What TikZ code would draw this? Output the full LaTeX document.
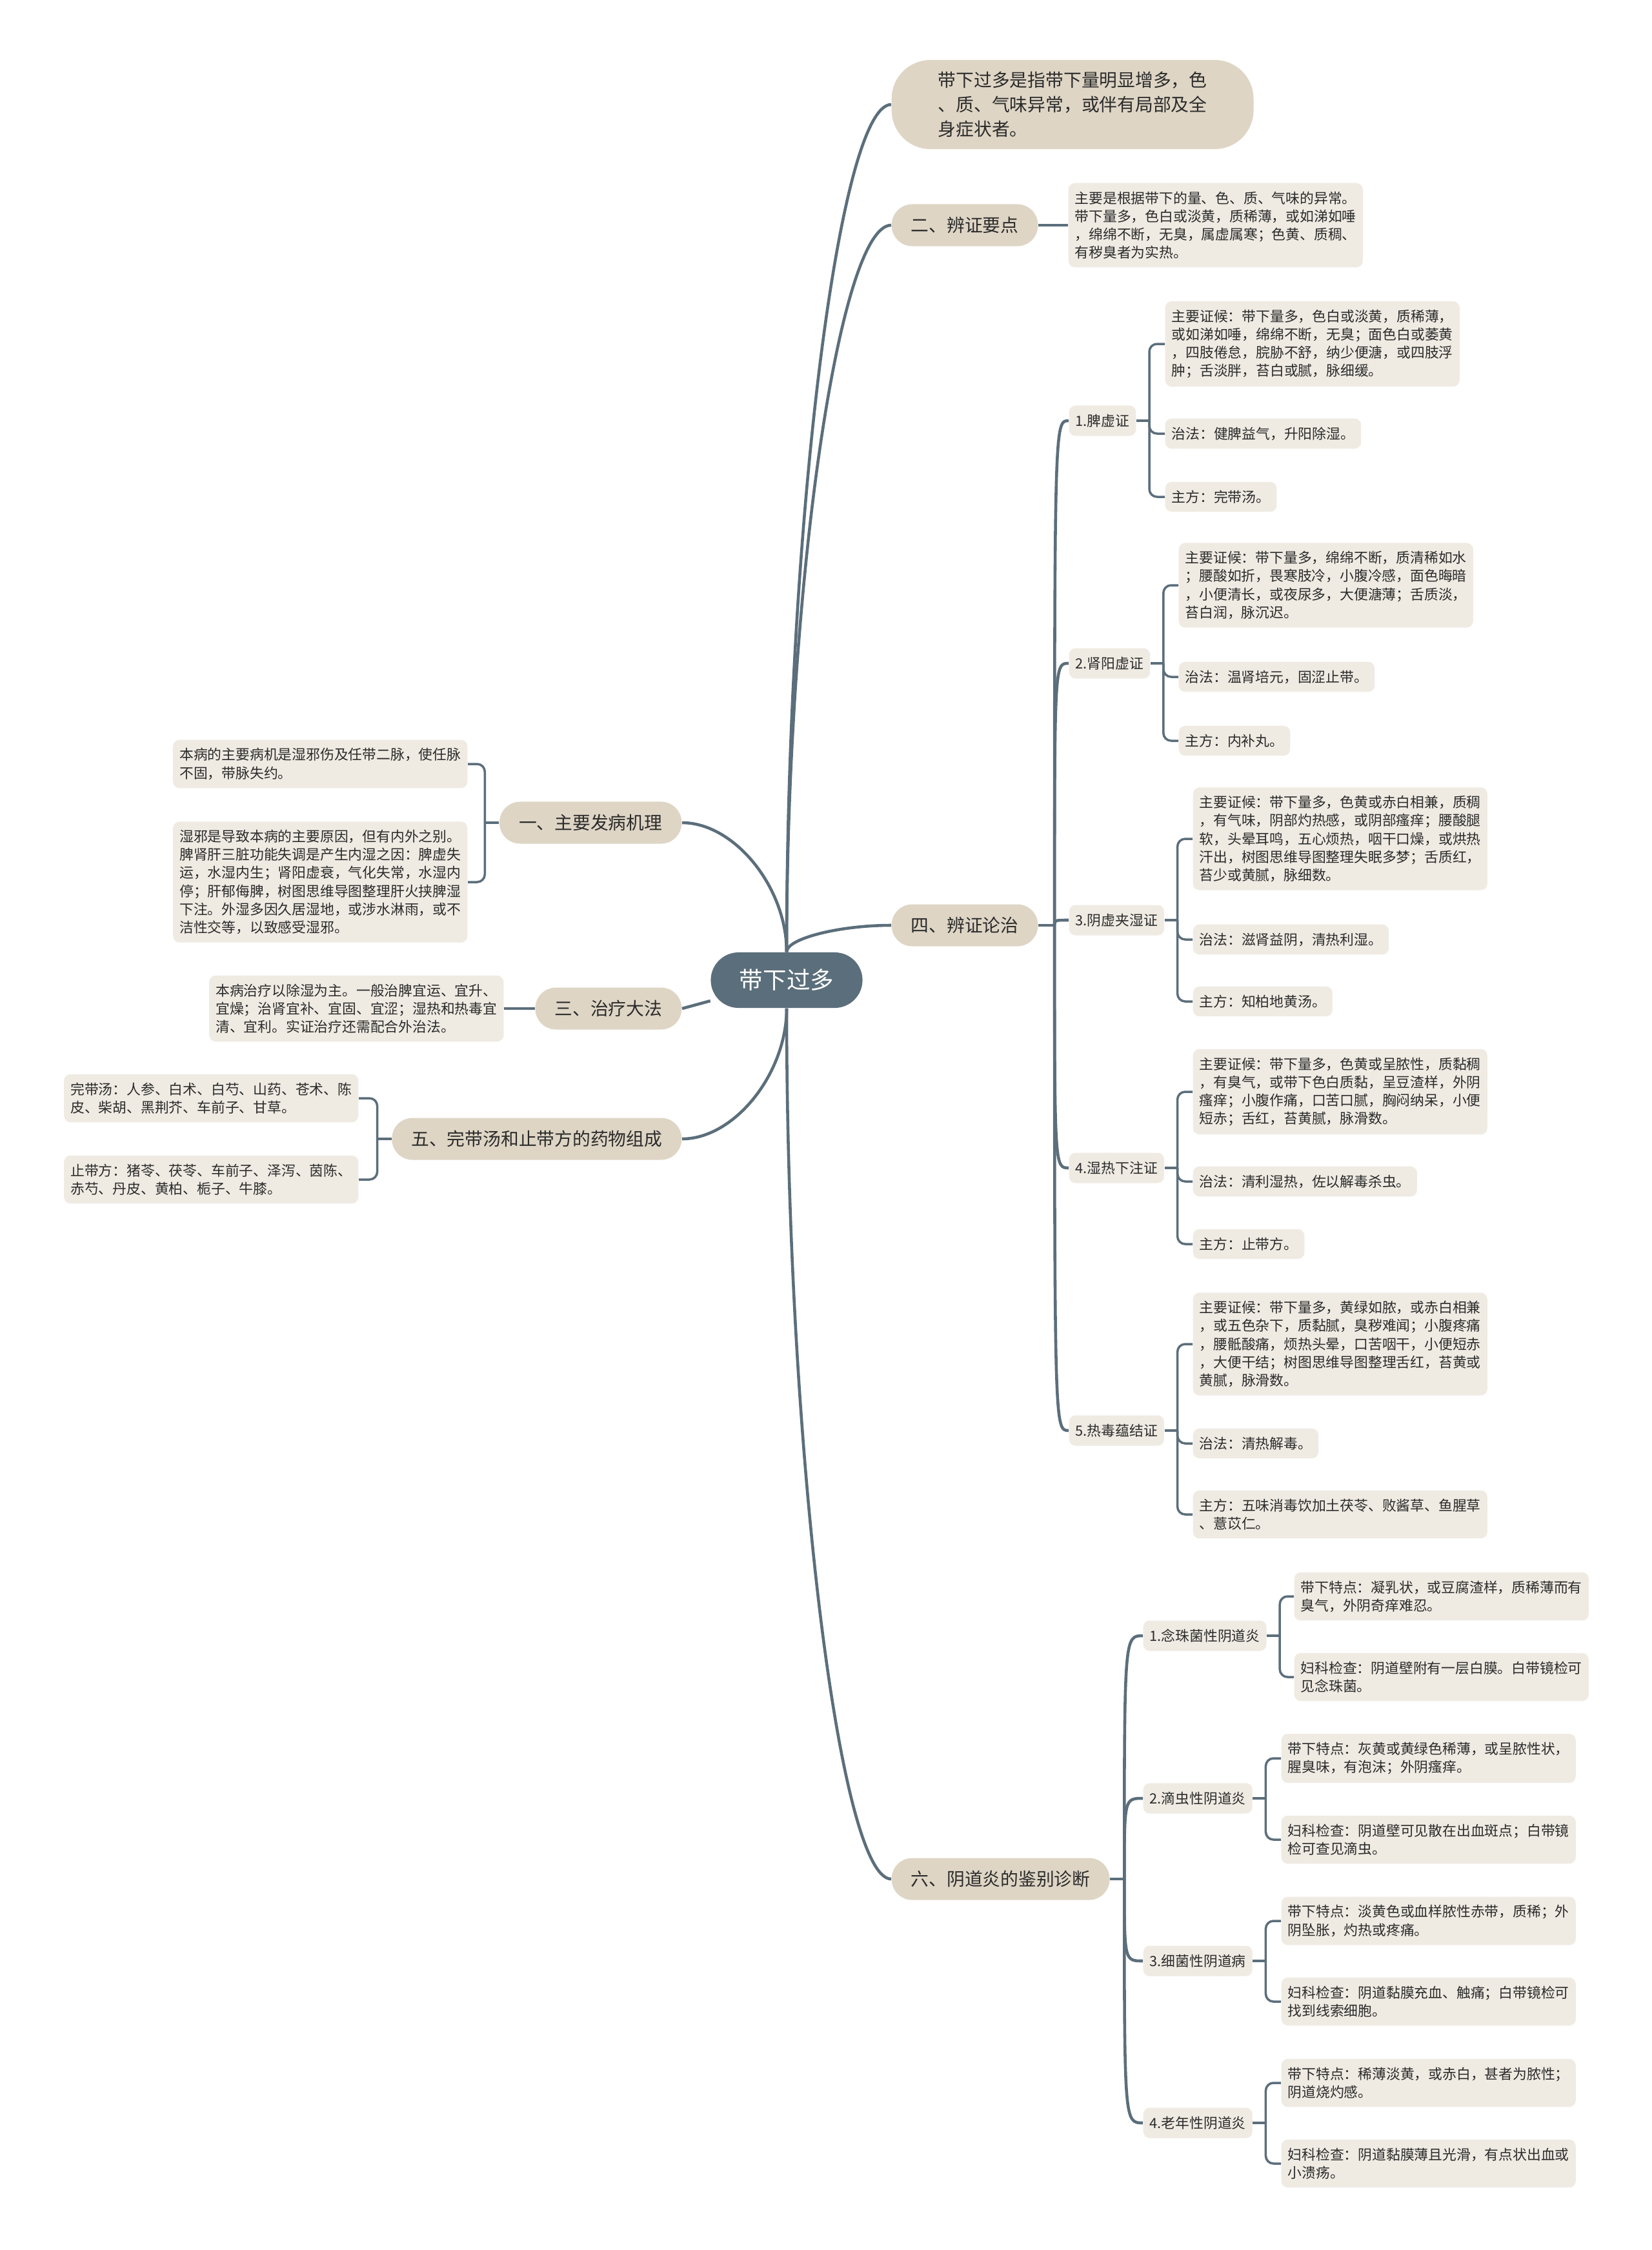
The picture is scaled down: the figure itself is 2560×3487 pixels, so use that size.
\documentclass[tikz,border=0pt]{standalone}
\usepackage{fontspec}
\usepackage{tikz}
\usetikzlibrary{positioning, calc}
\newfontfamily\cjk{Noto Sans CJK SC}
\definecolor{slateBG}{HTML}{5B6E7B}
\definecolor{sandNode}{HTML}{DED5C5}
\definecolor{paperLeaf}{HTML}{EFEBE3}
\definecolor{inkText}{HTML}{2B2B2B}
\pgfdeclarelayer{background}
\pgfsetlayers{background,main}
\tikzset{
	rootnode/.style={rectangle, rounded corners=0.43cm, minimum width=2.35cm, minimum height=0.86cm, fill=slateBG, text=white, font=\cjk\fontsize{10.4}{12}\selectfont},
	descnode/.style={rectangle, rounded corners=0.6cm, minimum height=1.38cm, inner xsep=0.72cm, inner ysep=0.17cm, align=left, fill=sandNode, text=inkText, font=\cjk\fontsize{7.9}{10.8}\selectfont},
	mainnode/.style={rectangle, rounded corners=0.32cm, minimum height=0.65cm, inner xsep=0.3cm, fill=sandNode, text=inkText, font=\cjk\fontsize{7.9}{10.8}\selectfont},
	subnode/.style={rectangle, rounded corners=0.1cm, minimum height=0.47cm, inner xsep=0.1cm, fill=paperLeaf, text=inkText, font=\cjk\fontsize{6.2}{8}\selectfont},
	leaf/.style={rectangle, rounded corners=0.1cm, inner xsep=0.1cm, inner ysep=0.13cm, align=left, fill=paperLeaf, text=inkText, font=\cjk\fontsize{6.2}{8}\selectfont},
	limb/.style={draw=slateBG, line width=1.3pt},
	twig/.style={draw=slateBG, line width=1pt},
	curvy/.style={to path={.. controls ($(\tikztostart)!0.5!(\tikztostart|-\tikztotarget)$) and ($(\tikztotarget)!0.5!(\tikztostart|-\tikztotarget)$) .. (\tikztotarget)}},
	hook/.style={to path={.. controls (\tikztostart|-\tikztotarget) .. (\tikztotarget)}}
}

\begin{document}
\begin{tikzpicture}[x=0.01cm, y=-0.01cm]
		\useasboundingbox (0,0) rectangle (2560,3487);
		
		% Centro
		\node[rootnode] (root) at (1219,1519) {带下过多};
		
		% Ramas derechas
		\node[descnode, anchor=west] (intro) at (1381,162) {带下过多是指带下量明显增多，色\\、质、气味异常，或伴有局部及全\\身症状者。};
		\node[mainnode, anchor=west] (b2) at (1381,349) {二、辨证要点};
		\node[mainnode, anchor=west] (b4) at (1381,1434) {四、辨证论治};
		\node[mainnode, anchor=west] (b6) at (1381,2912) {六、阴道炎的鉴别诊断};
		
		% Ramas izquierdas
		\node[mainnode, anchor=east] (b1) at (1057,1275) {一、主要发病机理};
		\node[mainnode, anchor=east] (b3) at (1057,1563) {三、治疗大法};
		\node[mainnode, anchor=east] (b5) at (1057,1765) {五、完带汤和止带方的药物组成};
		
		% Hojas de la izquierda
		\node[leaf, anchor=east] (b1a) at (725,1184) {本病的主要病机是湿邪伤及任带二脉，使任脉\\不固，带脉失约。};
		\node[leaf, anchor=east] (b1b) at (725,1367) {湿邪是导致本病的主要原因，但有内外之别。\\脾肾肝三脏功能失调是产生内湿之因：脾虚失\\运，水湿内生；肾阳虚衰，气化失常，水湿内\\停；肝郁侮脾，树图思维导图整理肝火挟脾湿\\下注。外湿多因久居湿地，或涉水淋雨，或不\\洁性交等，以致感受湿邪。};
		\node[leaf, anchor=east] (b3a) at (781,1563) {本病治疗以除湿为主。一般治脾宜运、宜升、\\宜燥；治肾宜补、宜固、宜涩；湿热和热毒宜\\清、宜利。实证治疗还需配合外治法。};
		\node[leaf, anchor=east] (b5a) at (556,1702) {完带汤：人参、白术、白芍、山药、苍术、陈\\皮、柴胡、黑荆芥、车前子、甘草。};
		\node[leaf, anchor=east] (b5b) at (556,1828) {止带方：猪苓、茯苓、车前子、泽泻、茵陈、\\赤芍、丹皮、黄柏、栀子、牛膝。};
		
		%辨证要点
		\node[leaf, anchor=west] (b2a) at (1655,349) {主要是根据带下的量、色、质、气味的异常。\\带下量多，色白或淡黄，质稀薄，或如涕如唾\\，绵绵不断，无臭，属虚属寒；色黄、质稠、\\有秽臭者为实热。};
		
		% 辨证论治
		\node[subnode, anchor=west] (p1) at (1656,652) {1.脾虚证};
		\node[subnode, anchor=west] (p2) at (1656,1028) {2.肾阳虚证};
		\node[subnode, anchor=west] (p3) at (1656,1426) {3.阴虚夹湿证};
		\node[subnode, anchor=west] (p4) at (1656,1810) {4.湿热下注证};
		\node[subnode, anchor=west] (p5) at (1656,2217) {5.热毒蕴结证};
		
		\node[leaf, anchor=west] (p1a) at (1805,533) {主要证候：带下量多，色白或淡黄，质稀薄，\\或如涕如唾，绵绵不断，无臭；面色白或萎黄\\，四肢倦怠，脘胁不舒，纳少便溏，或四肢浮\\肿；舌淡胖，苔白或腻，脉细缓。};
		\node[leaf, anchor=west] (p1b) at (1805,672) {治法：健脾益气，升阳除湿。};
		\node[leaf, anchor=west] (p1c) at (1805,770) {主方：完带汤。};
		
		\node[leaf, anchor=west] (p2a) at (1826,907) {主要证候：带下量多，绵绵不断，质清稀如水\\；腰酸如折，畏寒肢冷，小腹冷感，面色晦暗\\，小便清长，或夜尿多，大便溏薄；舌质淡，\\苔白润，脉沉迟。};
		\node[leaf, anchor=west] (p2b) at (1826,1049) {治法：温肾培元，固涩止带。};
		\node[leaf, anchor=west] (p2c) at (1826,1148) {主方：内补丸。};
		
		\node[leaf, anchor=west] (p3a) at (1848,1300) {主要证候：带下量多，色黄或赤白相兼，质稠\\，有气味，阴部灼热感，或阴部瘙痒；腰酸腿\\软，头晕耳鸣，五心烦热，咽干口燥，或烘热\\汗出，树图思维导图整理失眠多梦；舌质红，\\苔少或黄腻，脉细数。};
		\node[leaf, anchor=west] (p3b) at (1848,1456) {治法：滋肾益阴，清热利湿。};
		\node[leaf, anchor=west] (p3c) at (1848,1552) {主方：知柏地黄汤。};
		
		\node[leaf, anchor=west] (p4a) at (1848,1692) {主要证候：带下量多，色黄或呈脓性，质黏稠\\，有臭气，或带下色白质黏，呈豆渣样，外阴\\瘙痒；小腹作痛，口苦口腻，胸闷纳呆，小便\\短赤；舌红，苔黄腻，脉滑数。};
		\node[leaf, anchor=west] (p4b) at (1848,1831) {治法：清利湿热，佐以解毒杀虫。};
		\node[leaf, anchor=west] (p4c) at (1848,1928) {主方：止带方。};
		
		\node[leaf, anchor=west] (p5a) at (1848,2083) {主要证候：带下量多，黄绿如脓，或赤白相兼\\，或五色杂下，质黏腻，臭秽难闻；小腹疼痛\\，腰骶酸痛，烦热头晕，口苦咽干，小便短赤\\，大便干结；树图思维导图整理舌红，苔黄或\\黄腻，脉滑数。};
		\node[leaf, anchor=west] (p5b) at (1848,2237) {治法：清热解毒。};
		\node[leaf, anchor=west] (p5c) at (1848,2347) {主方：五味消毒饮加土茯苓、败酱草、鱼腥草\\、薏苡仁。};
		
		% 阴道炎的鉴别诊断
		\node[subnode, anchor=west] (q1) at (1771,2535) {1.念珠菌性阴道炎};
		\node[subnode, anchor=west] (q2) at (1771,2787) {2.滴虫性阴道炎};
		\node[subnode, anchor=west] (q3) at (1771,3039) {3.细菌性阴道病};
		\node[subnode, anchor=west] (q4) at (1771,3290) {4.老年性阴道炎};
		
		\node[leaf, anchor=west] (q1a) at (2005,2474) {带下特点：凝乳状，或豆腐渣样，质稀薄而有\\臭气，外阴奇痒难忍。};
		\node[leaf, anchor=west] (q1b) at (2005,2599) {妇科检查：阴道壁附有一层白膜。白带镜检可\\见念珠菌。};
		\node[leaf, anchor=west] (q2a) at (1985,2725) {带下特点：灰黄或黄绿色稀薄，或呈脓性状，\\腥臭味，有泡沫；外阴瘙痒。};
		\node[leaf, anchor=west] (q2b) at (1985,2851) {妇科检查：阴道壁可见散在出血斑点；白带镜\\检可查见滴虫。};
		\node[leaf, anchor=west] (q3a) at (1985,2977) {带下特点：淡黄色或血样脓性赤带，质稀；外\\阴坠胀，灼热或疼痛。};
		\node[leaf, anchor=west] (q3b) at (1985,3102) {妇科检查：阴道黏膜充血、触痛；白带镜检可\\找到线索细胞。};
		\node[leaf, anchor=west] (q4a) at (1985,3228) {带下特点：稀薄淡黄，或赤白，甚者为脓性；\\阴道烧灼感。};
		\node[leaf, anchor=west] (q4b) at (1985,3353) {妇科检查：阴道黏膜薄且光滑，有点状出血或\\小溃疡。};
		
		% Puntos de enlace
		\coordinate[right=0.25cm of b4] (b4t);
		\coordinate[right=0.22cm of b6] (b6t);
		\coordinate[left=0.22cm of b1] (b1t);
		\coordinate[left=0.22cm of b5] (b5t);
		\coordinate[right=0.2cm of p1] (p1t);
		\coordinate[right=0.2cm of p2] (p2t);
		\coordinate[right=0.2cm of p3] (p3t);
		\coordinate[right=0.2cm of p4] (p4t);
		\coordinate[right=0.2cm of p5] (p5t);
		\coordinate[right=0.2cm of q1] (q1t);
		\coordinate[right=0.2cm of q2] (q2t);
		\coordinate[right=0.2cm of q3] (q3t);
		\coordinate[right=0.2cm of q4] (q4t);
		
		\begin{pgfonlayer}{background}
		\fill[white] (0,0) rectangle (2560,3487);
		
		% Conexiones del centro
		\draw[limb] (root.north) to[curvy] (intro.west);
		\draw[limb] (root.north) to[curvy] (b2.west);
		\draw[limb] (root.north) to[curvy] (b4.west);
		\draw[limb] (root.south) to[curvy] (b6.west);
		\draw[limb] (root.north) to[curvy] (b1.east);
		\draw[limb] (root) -- (b3.east);
		\draw[limb] (root.south) to[curvy] (b5.east);
		
		% Conexiones de segundo nivel
		\draw[twig] (b2.east) -- (b2a.west);
		\draw[twig] (b3.west) -- (b3a.east);
		\draw[twig] (b1.west) -- (b1t);
		\draw[twig, rounded corners=0.12cm] (b1t) |- (b1a.east);
		\draw[twig, rounded corners=0.12cm] (b1t) |- (b1b.east);
		\draw[twig] (b5.west) -- (b5t);
		\draw[twig, rounded corners=0.12cm] (b5t) |- (b5a.east);
		\draw[twig, rounded corners=0.12cm] (b5t) |- (b5b.east);
		
		\draw[limb] (b4.east) -- (b4t);
		\draw[limb] (b4t) to[hook] (p1.west);
		\draw[limb] (b4t) to[hook] (p2.west);
		\draw[limb] (b4t) to[hook] (p3.west);
		\draw[limb] (b4t) to[hook] (p4.west);
		\draw[limb] (b4t) to[hook] (p5.west);
		
		\draw[limb] (b6.east) -- (b6t);
		\draw[limb] (b6t) to[hook] (q1.west);
		\draw[limb] (b6t) to[hook] (q2.west);
		\draw[limb] (b6t) to[hook] (q3.west);
		\draw[limb] (b6t) to[hook] (q4.west);
		
		% Conexiones a las hojas
		\draw[twig] (p1.east) -- (p1t);
		\draw[twig, rounded corners=0.12cm] (p1t) |- (p1a.west);
		\draw[twig, rounded corners=0.12cm] (p1t) |- (p1b.west);
		\draw[twig, rounded corners=0.12cm] (p1t) |- (p1c.west);
		\draw[twig] (p2.east) -- (p2t);
		\draw[twig, rounded corners=0.12cm] (p2t) |- (p2a.west);
		\draw[twig, rounded corners=0.12cm] (p2t) |- (p2b.west);
		\draw[twig, rounded corners=0.12cm] (p2t) |- (p2c.west);
		\draw[twig] (p3.east) -- (p3t);
		\draw[twig, rounded corners=0.12cm] (p3t) |- (p3a.west);
		\draw[twig, rounded corners=0.12cm] (p3t) |- (p3b.west);
		\draw[twig, rounded corners=0.12cm] (p3t) |- (p3c.west);
		\draw[twig] (p4.east) -- (p4t);
		\draw[twig, rounded corners=0.12cm] (p4t) |- (p4a.west);
		\draw[twig, rounded corners=0.12cm] (p4t) |- (p4b.west);
		\draw[twig, rounded corners=0.12cm] (p4t) |- (p4c.west);
		\draw[twig] (p5.east) -- (p5t);
		\draw[twig, rounded corners=0.12cm] (p5t) |- (p5a.west);
		\draw[twig, rounded corners=0.12cm] (p5t) |- (p5b.west);
		\draw[twig, rounded corners=0.12cm] (p5t) |- (p5c.west);
		
		\draw[twig] (q1.east) -- (q1t);
		\draw[twig, rounded corners=0.12cm] (q1t) |- (q1a.west);
		\draw[twig, rounded corners=0.12cm] (q1t) |- (q1b.west);
		\draw[twig] (q2.east) -- (q2t);
		\draw[twig, rounded corners=0.12cm] (q2t) |- (q2a.west);
		\draw[twig, rounded corners=0.12cm] (q2t) |- (q2b.west);
		\draw[twig] (q3.east) -- (q3t);
		\draw[twig, rounded corners=0.12cm] (q3t) |- (q3a.west);
		\draw[twig, rounded corners=0.12cm] (q3t) |- (q3b.west);
		\draw[twig] (q4.east) -- (q4t);
		\draw[twig, rounded corners=0.12cm] (q4t) |- (q4a.west);
		\draw[twig, rounded corners=0.12cm] (q4t) |- (q4b.west);
		\end{pgfonlayer}
	\end{tikzpicture}
\end{document}
